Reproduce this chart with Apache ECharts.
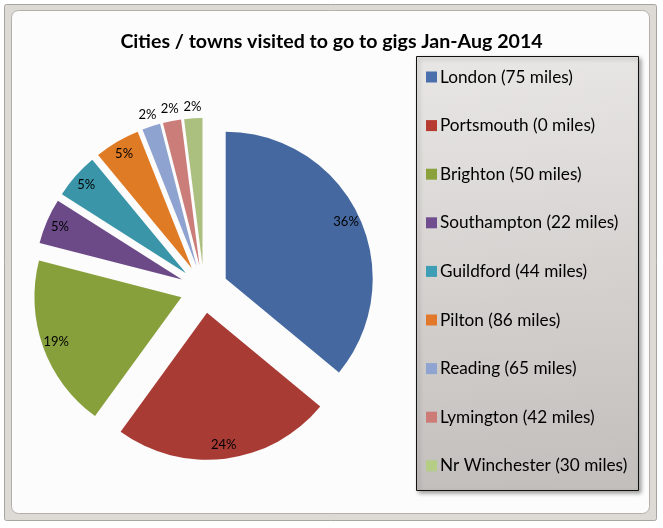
<!DOCTYPE html>
<html>
<head>
<meta charset="utf-8">
<script src="https://cdn.jsdelivr.net/npm/echarts@6/dist/echarts.min.js"></script>
<style>
html,body{margin:0;padding:0;background:#ffffff;}
#chart{width:663px;height:528px;}
</style>
</head>
<body>
<div id="chart"></div>
<script>
// Data
const categories = ['London (75 miles)', 'Portsmouth (0 miles)', 'Brighton (50 miles)', 'Southampton (22 miles)', 'Guildford (44 miles)', 'Pilton (86 miles)', 'Reading (65 miles)', 'Lymington (42 miles)', 'Nr Winchester (30 miles)'];
const shares = [36, 24, 19, 5, 5, 5, 2, 2, 2];
const sliceColors = ['#44689f', '#a93b35', '#88a03c', '#6b4a87', '#3a95a8', '#e07b25', '#8ea3cf', '#cb7d79', '#abc07f'];
const legendColors = ['#4a6fac', '#b63b31', '#8aa13c', '#6f4d8f', '#3d9eb5', '#e2782a', '#8fa4d0', '#cc7b77', '#b5cd84'];
const titleText = 'Cities / towns visited to go to gigs Jan-Aug 2014';

const FONT = 'Lato';
const CENTER = [204, 289];
const R = 147;
const EXPLODE = 24;

const chart = echarts.init(document.getElementById('chart'), null, {renderer: 'canvas'});

const mainData = categories.map((n, i) => ({
  name: n, value: shares[i], selected: true,
  itemStyle: {color: sliceColors[i]}
}));
function labelData(pred) {
  return categories.map((n, i) => ({
    name: n, value: shares[i],
    itemStyle: {color: 'rgba(0,0,0,0)'},
    label: {show: pred(shares[i])}
  }));
}
const common = {
  type: 'pie',
  center: CENTER,
  startAngle: 90,
  clockwise: true,
  animation: false,
  avoidLabelOverlap: false,
  percentPrecision: 0,
  labelLine: {show: false},
  emphasis: {disabled: true, scale: false},
};

const option = {
  backgroundColor: '#ffffff',
  animation: false,
  graphic: [
    {type: 'rect', z: -10, shape: {x: 4.5, y: 4.5, width: 652, height: 516, r: 2},
     style: {fill: '#dddad5', stroke: '#a9a6a1', lineWidth: 1}},
    {type: 'rect', z: -9, shape: {x: 11.5, y: 10.5, width: 638, height: 503, r: 7},
     style: {fill: '#fcfcfc', stroke: '#b3b0ab', lineWidth: 1}},
    {type: 'rect', z: -8, shape: {x: 416.5, y: 56.5, width: 222, height: 434},
     style: {
       fill: {type: 'linear', x: 0, y: 0, x2: 0.15, y2: 1, colorStops: [
         {offset: 0, color: '#e9e7e5'}, {offset: 1, color: '#c2bfbc'}]},
       stroke: '#111111', lineWidth: 1,
       shadowBlur: 4, shadowOffsetX: 2, shadowOffsetY: 2, shadowColor: 'rgba(0,0,0,0.35)'
     }}
  ],
  title: {
    text: titleText,
    left: 'center',
    top: 27,
    textStyle: {fontFamily: FONT, fontWeight: 'bold', fontSize: 19.6, color: '#000000'}
  },
  legend: {
    orient: 'vertical',
    left: 426,
    top: 67,
    padding: 0,
    itemWidth: 11,
    itemHeight: 11,
    itemGap: 28.6,
    icon: 'rect',
    selectedMode: false,
    data: categories.map((n, i) => ({name: n, itemStyle: {color: legendColors[i]}})),
    textStyle: {fontFamily: FONT, fontSize: 17.2, color: '#000000', lineHeight: 20, padding: [0, 0, 0, -2]}
  },
  series: [
    Object.assign({}, common, {
      name: 'main',
      radius: [0, R],
      selectedMode: 'multiple',
      selectedOffset: EXPLODE,
      itemStyle: {borderWidth: 0},
      select: {itemStyle: {borderWidth: 0}},
      label: {show: false},
      data: mainData
    }),
    Object.assign({}, common, {
      name: 'labelsInner',
      radius: [146, 162],
      silent: true,
      itemStyle: {borderWidth: 0},
      label: {position: 'inside', rotate: 0, formatter: '{d}%', fontFamily: FONT, fontSize: 13, color: '#000000'},
      data: labelData(v => v >= 5)
    }),
    Object.assign({}, common, {
      name: 'labelsOuter',
      radius: [172, 188],
      silent: true,
      itemStyle: {borderWidth: 0},
      label: {position: 'inside', rotate: 0, formatter: '{d}%', fontFamily: FONT, fontSize: 13, color: '#000000'},
      data: labelData(v => v < 5)
    })
  ]
};
chart.setOption(option);
</script>
</body>
</html>
